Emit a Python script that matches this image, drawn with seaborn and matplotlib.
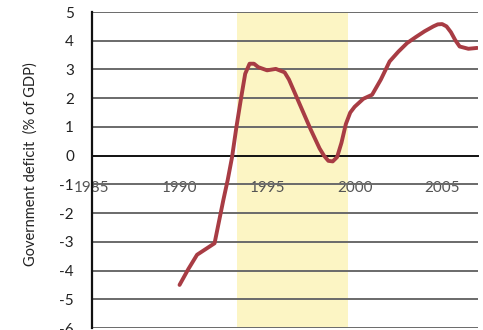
import matplotlib
matplotlib.use("Agg")
import matplotlib.pyplot as plt
import seaborn as sns
import pandas as pd

# Government deficit as % of GDP, read at quarter/half-year steps
years = [1990, 1990.5, 1991, 1991.5, 1992, 1992.25, 1992.5, 1992.75, 1993, 1993.25,
         1993.5, 1993.75, 1994, 1994.25, 1994.5, 1995, 1995.5, 1996, 1996.25, 1996.5,
         1997, 1997.5, 1998, 1998.25, 1998.5, 1998.75, 1999, 1999.25, 1999.5, 1999.75,
         2000, 2000.5, 2001, 2001.5, 2002, 2002.5, 2003, 2003.5, 2004, 2004.5,
         2004.75, 2005, 2005.25, 2005.5, 2005.75, 2006, 2006.5, 2007]
deficit = [-4.5, -3.95, -3.45, -3.25, -3.05, -2.3, -1.55, -0.85, -0.05, 1.0,
           1.95, 2.85, 3.2, 3.2, 3.08, 2.97, 3.02, 2.9, 2.65, 2.3,
           1.6, 0.9, 0.25, 0.0, -0.18, -0.2, -0.05, 0.45, 1.1, 1.5,
           1.7, 1.98, 2.12, 2.65, 3.28, 3.62, 3.92, 4.13, 4.33, 4.5,
           4.57, 4.58, 4.5, 4.3, 4.02, 3.8, 3.72, 3.75]

# Highlighted period
band_start, band_end = 1993.3, 1999.6

x_ticks = [1985, 1990, 1995, 2000, 2005]
y_ticks = [-6, -5, -4, -3, -2, -1, 0, 1, 2, 3, 4, 5]

df = pd.DataFrame({"year": years, "deficit": deficit})

sns.set_style("white")
plt.rcParams["font.family"] = ["Lato", "DejaVu Sans"]

fig = plt.figure(figsize=(4.83, 3.30), dpi=100)
ax = fig.add_axes([0.1905, 0.006, 0.7992, 0.9576])

ax.axvspan(band_start, band_end, color="#fcf5c4", zorder=0, lw=0)

for y in y_ticks:
    if y != 0:
        ax.axhline(y, color="#6a6a6a", lw=1.4, zorder=1)

sns.lineplot(data=df, x="year", y="deficit", ax=ax, color="#a83c44",
             lw=2.8, zorder=3, solid_joinstyle="round", solid_capstyle="round")

ax.set_xlim(1985, 2007.05)
ax.set_ylim(-6, 5)

for side in ("top", "right"):
    ax.spines[side].set_visible(False)
ax.spines["left"].set_color("#111111")
ax.spines["left"].set_linewidth(1.6)
ax.spines["bottom"].set_position(("data", 0))
ax.spines["bottom"].set_color("#111111")
ax.spines["bottom"].set_linewidth(1.4)

ax.set_xticks(x_ticks)
ax.set_xticklabels([str(t) for t in x_ticks])
ax.tick_params(axis="x", direction="out", length=3.5, width=1.2, color="#222222",
               pad=15, labelsize=11, labelcolor="#555555")
ax.set_yticks(y_ticks)
ax.set_yticklabels([str(t) for t in y_ticks])
ax.tick_params(axis="y", length=0, pad=13, labelsize=11, labelcolor="#222222")

ax.set_xlabel("")
ax.set_ylabel("Government deficit  (% of GDP)", fontsize=10.5, color="#222222")
ax.yaxis.set_label_coords(-0.14, 0.52)

fig.savefig("out.png", dpi=100)
